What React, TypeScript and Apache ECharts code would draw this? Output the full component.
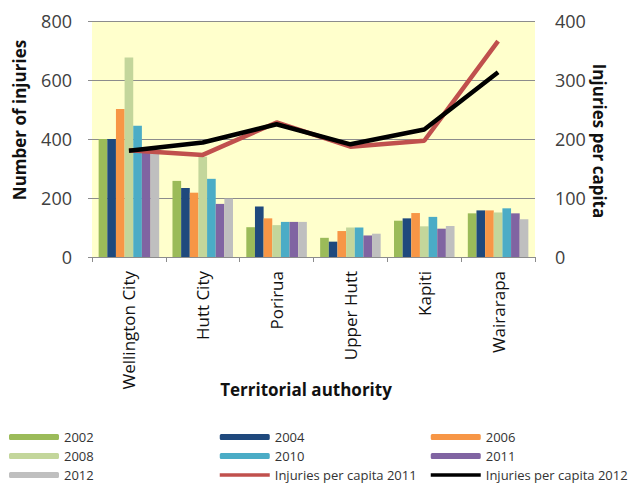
import React, { useEffect, useRef } from "react";
import * as echarts from "echarts";

const categories = ["Wellington City", "Hutt City", "Porirua", "Upper Hutt", "Kapiti", "Wairarapa"];
const y2002 = [400, 258, 101, 65, 123, 148];
const y2004 = [400, 234, 171, 52, 131, 158];
const y2006 = [502, 218, 131, 88, 149, 158];
const y2008 = [676, 340, 108, 100, 104, 151];
const y2010 = [445, 265, 119, 100, 136, 165];
const y2011 = [360, 180, 119, 73, 96, 148];
const y2012 = [355, 198, 119, 79, 105, 128];
const perCapita2011 = [181, 173, 228, 187, 197, 366];
const perCapita2012 = [180, 194, 225, 191, 216, 313];

const leftTicks = [0, 800, 200];
const rightTicks = [0, 400, 100];

const FONT = "'Open Sans', 'Liberation Sans', sans-serif";

export default function App() {
  const ref = useRef<HTMLDivElement>(null);
  useEffect(() => {
    if (!ref.current) return;
    const chart = echarts.init(ref.current, null, { renderer: "svg" });
    const barSeries = [
      { name: "2002", data: y2002, color: "#9BBB59" },
      { name: "2004", data: y2004, color: "#1F497D" },
      { name: "2006", data: y2006, color: "#F79646" },
      { name: "2008", data: y2008, color: "#C3D69B" },
      { name: "2010", data: y2010, color: "#4BACC6" },
      { name: "2011", data: y2011, color: "#8064A2" },
      { name: "2012", data: y2012, color: "#BFBFBF" },
    ].map((s) => ({
      name: s.name,
      type: "bar",
      data: s.data,
      itemStyle: { color: s.color },
      barGap: "0%",
      barCategoryGap: "18%",
      yAxisIndex: 0,
    }));
    const lineSeries = [
      { name: "Injuries per capita 2011", data: perCapita2011, color: "#C0504D" },
      { name: "Injuries per capita 2012", data: perCapita2012, color: "#000000" },
    ].map((s) => ({
      name: s.name,
      type: "line",
      data: s.data,
      yAxisIndex: 1,
      symbol: "none",
      itemStyle: { color: s.color },
      lineStyle: { color: s.color, width: 4.5 },
      z: 5,
    }));
    const legendBase = {
      orient: "vertical",
      top: 430,
      itemWidth: 50,
      itemHeight: 6,
      itemGap: 5,
      textStyle: { fontFamily: FONT, fontSize: 13, color: "#333", lineHeight: 14 },
      padding: 0,
    };
    const lineLegendItem = (name: string) => ({
      name,
      itemStyle: { opacity: 0 },
      lineStyle: { width: 3.5 },
    });
    chart.setOption({
      animation: false,
      backgroundColor: "#ffffff",
      textStyle: { fontFamily: FONT },
      grid: {
        left: 92,
        right: 97,
        top: 21,
        bottom: 227,
        show: true,
        backgroundColor: "#FFFFCC",
        borderWidth: 0,
      },
      legend: [
        { ...legendBase, left: 9, data: ["2002", "2008", "2012"] },
        { ...legendBase, left: 218, data: ["2004", "2010", lineLegendItem("Injuries per capita 2011")] },
        { ...legendBase, left: 429, data: ["2006", "2011", lineLegendItem("Injuries per capita 2012")] },
      ],
      xAxis: {
        type: "category",
        data: categories,
        axisLine: { show: true, lineStyle: { color: "#8c8c8c", width: 1 } },
        axisTick: { show: true, alignWithLabel: false, length: 5, lineStyle: { color: "#8c8c8c" } },
        axisLabel: { rotate: 90, margin: 14, fontSize: 17, color: "#111", fontFamily: FONT },
      },
      yAxis: [
        {
          type: "value",
          min: leftTicks[0],
          max: leftTicks[1],
          interval: leftTicks[2],
          axisLine: { show: false },
          axisTick: { show: true, length: 4, lineStyle: { color: "#8c8c8c" } },
          axisLabel: { margin: 20, fontSize: 18, color: "#404040", fontFamily: FONT },
          splitLine: { show: true, lineStyle: { color: "#8c8c8c", width: 1 } },
        },
        {
          type: "value",
          min: rightTicks[0],
          max: rightTicks[1],
          interval: rightTicks[2],
          axisLine: { show: false },
          axisTick: { show: false },
          axisLabel: { margin: 20, fontSize: 18, color: "#404040", fontFamily: FONT },
          splitLine: { show: false },
        },
      ],
      graphic: [
        {
          type: "text",
          x: 19,
          y: 120,
          rotation: Math.PI / 2,
          style: {
            text: "Number of injuries",
            fontFamily: FONT,
            fontSize: 17,
            fontWeight: "bold",
            fill: "#111",
            align: "center",
            verticalAlign: "middle",
          },
        },
        {
          type: "text",
          x: 599,
          y: 141,
          rotation: -Math.PI / 2,
          style: {
            text: "Injuries per capita",
            fontFamily: FONT,
            fontSize: 17,
            fontWeight: "bold",
            fill: "#111",
            align: "center",
            verticalAlign: "middle",
          },
        },
        {
          type: "text",
          x: 306,
          y: 389,
          style: {
            text: "Territorial authority",
            fontFamily: FONT,
            fontSize: 17,
            fontWeight: "bold",
            fill: "#111",
            align: "center",
            verticalAlign: "middle",
          },
        },
      ],
      series: [...barSeries, ...lineSeries],
    });
    return () => chart.dispose();
  }, []);
  return <div ref={ref} style={{ width: 632, height: 484, position: "absolute", left: 0, top: 0 }} />;
}
